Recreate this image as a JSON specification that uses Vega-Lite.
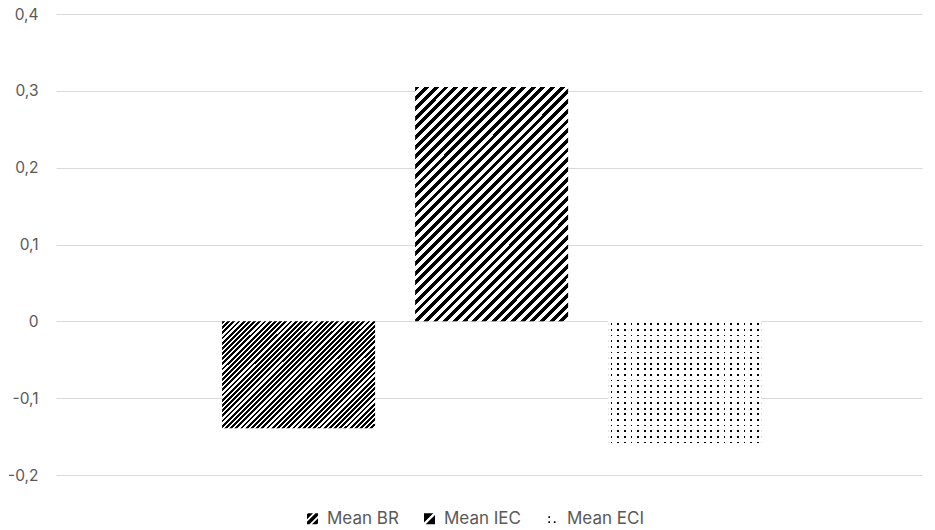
{
"$schema":"https://vega.github.io/schema/vega-lite/v6.json",
"autosize":{"type":"none"},
"width":866,"height":461,
"padding":{"left":56,"top":14,"right":13,"bottom":55},
"background":"white",
"config":{"view":{"stroke":null},"font":"Inter"},
"data":{"values":[{"key":"Mean BR","value":-0.139},{"key":"Mean IEC","value":0.305},{"key":"Mean ECI","value":-0.161}]},
"encoding":{
"x":{"field":"key","type":"nominal","sort":["Mean BR","Mean IEC","Mean ECI"],"scale":{"domain":["Mean BR","Mean IEC","Mean ECI"],"paddingInner":0.2073,"paddingOuter":0.847,"align":0.508},"axis":null},
"y":{"field":"value","type":"quantitative","scale":{"domain":[-0.2,0.4],"nice":false,"zero":false},"axis":{"values":[-0.2,-0.1,0,0.1,0.2,0.3,0.4],"labelExpr":"replace(toString(round(datum.value*10)/10), '.', ',')","title":null,"domain":false,"ticks":false,"grid":true,"gridColor":"#d9d9d9","gridWidth":1,"labelPadding":18,"labelFontSize":15.5,"labelColor":"#595959","labelFont":"Inter"}}
},
"layer":[
{"transform":[{"filter":"datum.key === 'Mean BR'"}],
"mark":{"type":"bar","strokeWidth":0,"fill":{"gradient":"linear","x1":0,"y1":0,"x2":1.141,"y2":0.798,"stops":[
{"offset":0,"color":"#000"},{"offset":0.011,"color":"#000"},{"offset":0.011,"color":"#fff"},{"offset":0.02,"color":"#fff"},
{"offset":0.02,"color":"#000"},{"offset":0.031,"color":"#000"},{"offset":0.031,"color":"#fff"},{"offset":0.04,"color":"#fff"},
{"offset":0.04,"color":"#000"},{"offset":0.051,"color":"#000"},{"offset":0.051,"color":"#fff"},{"offset":0.06,"color":"#fff"},
{"offset":0.06,"color":"#000"},{"offset":0.071,"color":"#000"},{"offset":0.071,"color":"#fff"},{"offset":0.08,"color":"#fff"},
{"offset":0.08,"color":"#000"},{"offset":0.091,"color":"#000"},{"offset":0.091,"color":"#fff"},{"offset":0.1,"color":"#fff"},
{"offset":0.1,"color":"#000"},{"offset":0.111,"color":"#000"},{"offset":0.111,"color":"#fff"},{"offset":0.12,"color":"#fff"},
{"offset":0.12,"color":"#000"},{"offset":0.131,"color":"#000"},{"offset":0.131,"color":"#fff"},{"offset":0.14,"color":"#fff"},
{"offset":0.14,"color":"#000"},{"offset":0.151,"color":"#000"},{"offset":0.151,"color":"#fff"},{"offset":0.16,"color":"#fff"},
{"offset":0.16,"color":"#000"},{"offset":0.171,"color":"#000"},{"offset":0.171,"color":"#fff"},{"offset":0.18,"color":"#fff"},
{"offset":0.18,"color":"#000"},{"offset":0.191,"color":"#000"},{"offset":0.191,"color":"#fff"},{"offset":0.2,"color":"#fff"},
{"offset":0.2,"color":"#000"},{"offset":0.211,"color":"#000"},{"offset":0.211,"color":"#fff"},{"offset":0.22,"color":"#fff"},
{"offset":0.22,"color":"#000"},{"offset":0.231,"color":"#000"},{"offset":0.231,"color":"#fff"},{"offset":0.24,"color":"#fff"},
{"offset":0.24,"color":"#000"},{"offset":0.251,"color":"#000"},{"offset":0.251,"color":"#fff"},{"offset":0.26,"color":"#fff"},
{"offset":0.26,"color":"#000"},{"offset":0.271,"color":"#000"},{"offset":0.271,"color":"#fff"},{"offset":0.28,"color":"#fff"},
{"offset":0.28,"color":"#000"},{"offset":0.291,"color":"#000"},{"offset":0.291,"color":"#fff"},{"offset":0.3,"color":"#fff"},
{"offset":0.3,"color":"#000"},{"offset":0.311,"color":"#000"},{"offset":0.311,"color":"#fff"},{"offset":0.32,"color":"#fff"},
{"offset":0.32,"color":"#000"},{"offset":0.331,"color":"#000"},{"offset":0.331,"color":"#fff"},{"offset":0.34,"color":"#fff"},
{"offset":0.34,"color":"#000"},{"offset":0.351,"color":"#000"},{"offset":0.351,"color":"#fff"},{"offset":0.36,"color":"#fff"},
{"offset":0.36,"color":"#000"},{"offset":0.371,"color":"#000"},{"offset":0.371,"color":"#fff"},{"offset":0.38,"color":"#fff"},
{"offset":0.38,"color":"#000"},{"offset":0.391,"color":"#000"},{"offset":0.391,"color":"#fff"},{"offset":0.4,"color":"#fff"},
{"offset":0.4,"color":"#000"},{"offset":0.411,"color":"#000"},{"offset":0.411,"color":"#fff"},{"offset":0.42,"color":"#fff"},
{"offset":0.42,"color":"#000"},{"offset":0.431,"color":"#000"},{"offset":0.431,"color":"#fff"},{"offset":0.44,"color":"#fff"},
{"offset":0.44,"color":"#000"},{"offset":0.451,"color":"#000"},{"offset":0.451,"color":"#fff"},{"offset":0.46,"color":"#fff"},
{"offset":0.46,"color":"#000"},{"offset":0.471,"color":"#000"},{"offset":0.471,"color":"#fff"},{"offset":0.48,"color":"#fff"},
{"offset":0.48,"color":"#000"},{"offset":0.491,"color":"#000"},{"offset":0.491,"color":"#fff"},{"offset":0.5,"color":"#fff"},
{"offset":0.5,"color":"#000"},{"offset":0.511,"color":"#000"},{"offset":0.511,"color":"#fff"},{"offset":0.52,"color":"#fff"},
{"offset":0.52,"color":"#000"},{"offset":0.531,"color":"#000"},{"offset":0.531,"color":"#fff"},{"offset":0.54,"color":"#fff"},
{"offset":0.54,"color":"#000"},{"offset":0.551,"color":"#000"},{"offset":0.551,"color":"#fff"},{"offset":0.56,"color":"#fff"},
{"offset":0.56,"color":"#000"},{"offset":0.571,"color":"#000"},{"offset":0.571,"color":"#fff"},{"offset":0.58,"color":"#fff"},
{"offset":0.58,"color":"#000"},{"offset":0.591,"color":"#000"},{"offset":0.591,"color":"#fff"},{"offset":0.6,"color":"#fff"},
{"offset":0.6,"color":"#000"},{"offset":0.611,"color":"#000"},{"offset":0.611,"color":"#fff"},{"offset":0.62,"color":"#fff"},
{"offset":0.62,"color":"#000"},{"offset":0.631,"color":"#000"},{"offset":0.631,"color":"#fff"},{"offset":0.64,"color":"#fff"},
{"offset":0.64,"color":"#000"},{"offset":0.651,"color":"#000"},{"offset":0.651,"color":"#fff"},{"offset":0.66,"color":"#fff"},
{"offset":0.66,"color":"#000"},{"offset":0.671,"color":"#000"},{"offset":0.671,"color":"#fff"},{"offset":0.68,"color":"#fff"},
{"offset":0.68,"color":"#000"},{"offset":0.691,"color":"#000"},{"offset":0.691,"color":"#fff"},{"offset":0.7,"color":"#fff"},
{"offset":0.7,"color":"#000"},{"offset":0.711,"color":"#000"},{"offset":0.711,"color":"#fff"},{"offset":0.72,"color":"#fff"},
{"offset":0.72,"color":"#000"},{"offset":0.731,"color":"#000"},{"offset":0.731,"color":"#fff"},{"offset":0.74,"color":"#fff"},
{"offset":0.74,"color":"#000"},{"offset":0.751,"color":"#000"},{"offset":0.751,"color":"#fff"},{"offset":0.76,"color":"#fff"},
{"offset":0.76,"color":"#000"},{"offset":0.771,"color":"#000"},{"offset":0.771,"color":"#fff"},{"offset":0.78,"color":"#fff"},
{"offset":0.78,"color":"#000"},{"offset":0.791,"color":"#000"},{"offset":0.791,"color":"#fff"},{"offset":0.8,"color":"#fff"},
{"offset":0.8,"color":"#000"},{"offset":0.811,"color":"#000"},{"offset":0.811,"color":"#fff"},{"offset":0.82,"color":"#fff"},
{"offset":0.82,"color":"#000"},{"offset":0.831,"color":"#000"},{"offset":0.831,"color":"#fff"},{"offset":0.84,"color":"#fff"},
{"offset":0.84,"color":"#000"},{"offset":0.851,"color":"#000"},{"offset":0.851,"color":"#fff"},{"offset":0.86,"color":"#fff"},
{"offset":0.86,"color":"#000"},{"offset":0.871,"color":"#000"},{"offset":0.871,"color":"#fff"},{"offset":0.88,"color":"#fff"},
{"offset":0.88,"color":"#000"},{"offset":0.891,"color":"#000"},{"offset":0.891,"color":"#fff"},{"offset":0.9,"color":"#fff"},
{"offset":0.9,"color":"#000"},{"offset":0.911,"color":"#000"},{"offset":0.911,"color":"#fff"},{"offset":0.92,"color":"#fff"},
{"offset":0.92,"color":"#000"},{"offset":0.931,"color":"#000"},{"offset":0.931,"color":"#fff"},{"offset":0.94,"color":"#fff"},
{"offset":0.94,"color":"#000"},{"offset":0.951,"color":"#000"},{"offset":0.951,"color":"#fff"},{"offset":0.96,"color":"#fff"},
{"offset":0.96,"color":"#000"},{"offset":0.971,"color":"#000"},{"offset":0.971,"color":"#fff"},{"offset":0.98,"color":"#fff"},
{"offset":0.98,"color":"#000"},{"offset":0.991,"color":"#000"},{"offset":0.991,"color":"#fff"},{"offset":1,"color":"#fff"}
]}}},
{"transform":[{"filter":"datum.key === 'Mean IEC'"}],
"mark":{"type":"bar","strokeWidth":0,"fill":{"gradient":"linear","x1":0,"y1":0,"x2":0.758,"y2":1.159,"stops":[
{"offset":0,"color":"#000"},{"offset":0.0125,"color":"#000"},{"offset":0.0125,"color":"#fff"},{"offset":0.025,"color":"#fff"},
{"offset":0.025,"color":"#000"},{"offset":0.0375,"color":"#000"},{"offset":0.0375,"color":"#fff"},{"offset":0.05,"color":"#fff"},
{"offset":0.05,"color":"#000"},{"offset":0.0625,"color":"#000"},{"offset":0.0625,"color":"#fff"},{"offset":0.075,"color":"#fff"},
{"offset":0.075,"color":"#000"},{"offset":0.0875,"color":"#000"},{"offset":0.0875,"color":"#fff"},{"offset":0.1,"color":"#fff"},
{"offset":0.1,"color":"#000"},{"offset":0.1125,"color":"#000"},{"offset":0.1125,"color":"#fff"},{"offset":0.125,"color":"#fff"},
{"offset":0.125,"color":"#000"},{"offset":0.1375,"color":"#000"},{"offset":0.1375,"color":"#fff"},{"offset":0.15,"color":"#fff"},
{"offset":0.15,"color":"#000"},{"offset":0.1625,"color":"#000"},{"offset":0.1625,"color":"#fff"},{"offset":0.175,"color":"#fff"},
{"offset":0.175,"color":"#000"},{"offset":0.1875,"color":"#000"},{"offset":0.1875,"color":"#fff"},{"offset":0.2,"color":"#fff"},
{"offset":0.2,"color":"#000"},{"offset":0.2125,"color":"#000"},{"offset":0.2125,"color":"#fff"},{"offset":0.225,"color":"#fff"},
{"offset":0.225,"color":"#000"},{"offset":0.2375,"color":"#000"},{"offset":0.2375,"color":"#fff"},{"offset":0.25,"color":"#fff"},
{"offset":0.25,"color":"#000"},{"offset":0.2625,"color":"#000"},{"offset":0.2625,"color":"#fff"},{"offset":0.275,"color":"#fff"},
{"offset":0.275,"color":"#000"},{"offset":0.2875,"color":"#000"},{"offset":0.2875,"color":"#fff"},{"offset":0.3,"color":"#fff"},
{"offset":0.3,"color":"#000"},{"offset":0.3125,"color":"#000"},{"offset":0.3125,"color":"#fff"},{"offset":0.325,"color":"#fff"},
{"offset":0.325,"color":"#000"},{"offset":0.3375,"color":"#000"},{"offset":0.3375,"color":"#fff"},{"offset":0.35,"color":"#fff"},
{"offset":0.35,"color":"#000"},{"offset":0.3625,"color":"#000"},{"offset":0.3625,"color":"#fff"},{"offset":0.375,"color":"#fff"},
{"offset":0.375,"color":"#000"},{"offset":0.3875,"color":"#000"},{"offset":0.3875,"color":"#fff"},{"offset":0.4,"color":"#fff"},
{"offset":0.4,"color":"#000"},{"offset":0.4125,"color":"#000"},{"offset":0.4125,"color":"#fff"},{"offset":0.425,"color":"#fff"},
{"offset":0.425,"color":"#000"},{"offset":0.4375,"color":"#000"},{"offset":0.4375,"color":"#fff"},{"offset":0.45,"color":"#fff"},
{"offset":0.45,"color":"#000"},{"offset":0.4625,"color":"#000"},{"offset":0.4625,"color":"#fff"},{"offset":0.475,"color":"#fff"},
{"offset":0.475,"color":"#000"},{"offset":0.4875,"color":"#000"},{"offset":0.4875,"color":"#fff"},{"offset":0.5,"color":"#fff"},
{"offset":0.5,"color":"#000"},{"offset":0.5125,"color":"#000"},{"offset":0.5125,"color":"#fff"},{"offset":0.525,"color":"#fff"},
{"offset":0.525,"color":"#000"},{"offset":0.5375,"color":"#000"},{"offset":0.5375,"color":"#fff"},{"offset":0.55,"color":"#fff"},
{"offset":0.55,"color":"#000"},{"offset":0.5625,"color":"#000"},{"offset":0.5625,"color":"#fff"},{"offset":0.575,"color":"#fff"},
{"offset":0.575,"color":"#000"},{"offset":0.5875,"color":"#000"},{"offset":0.5875,"color":"#fff"},{"offset":0.6,"color":"#fff"},
{"offset":0.6,"color":"#000"},{"offset":0.6125,"color":"#000"},{"offset":0.6125,"color":"#fff"},{"offset":0.625,"color":"#fff"},
{"offset":0.625,"color":"#000"},{"offset":0.6375,"color":"#000"},{"offset":0.6375,"color":"#fff"},{"offset":0.65,"color":"#fff"},
{"offset":0.65,"color":"#000"},{"offset":0.6625,"color":"#000"},{"offset":0.6625,"color":"#fff"},{"offset":0.675,"color":"#fff"},
{"offset":0.675,"color":"#000"},{"offset":0.6875,"color":"#000"},{"offset":0.6875,"color":"#fff"},{"offset":0.7,"color":"#fff"},
{"offset":0.7,"color":"#000"},{"offset":0.7125,"color":"#000"},{"offset":0.7125,"color":"#fff"},{"offset":0.725,"color":"#fff"},
{"offset":0.725,"color":"#000"},{"offset":0.7375,"color":"#000"},{"offset":0.7375,"color":"#fff"},{"offset":0.75,"color":"#fff"},
{"offset":0.75,"color":"#000"},{"offset":0.7625,"color":"#000"},{"offset":0.7625,"color":"#fff"},{"offset":0.775,"color":"#fff"},
{"offset":0.775,"color":"#000"},{"offset":0.7875,"color":"#000"},{"offset":0.7875,"color":"#fff"},{"offset":0.8,"color":"#fff"},
{"offset":0.8,"color":"#000"},{"offset":0.8125,"color":"#000"},{"offset":0.8125,"color":"#fff"},{"offset":0.825,"color":"#fff"},
{"offset":0.825,"color":"#000"},{"offset":0.8375,"color":"#000"},{"offset":0.8375,"color":"#fff"},{"offset":0.85,"color":"#fff"},
{"offset":0.85,"color":"#000"},{"offset":0.8625,"color":"#000"},{"offset":0.8625,"color":"#fff"},{"offset":0.875,"color":"#fff"},
{"offset":0.875,"color":"#000"},{"offset":0.8875,"color":"#000"},{"offset":0.8875,"color":"#fff"},{"offset":0.9,"color":"#fff"},
{"offset":0.9,"color":"#000"},{"offset":0.9125,"color":"#000"},{"offset":0.9125,"color":"#fff"},{"offset":0.925,"color":"#fff"},
{"offset":0.925,"color":"#000"},{"offset":0.9375,"color":"#000"},{"offset":0.9375,"color":"#fff"},{"offset":0.95,"color":"#fff"},
{"offset":0.95,"color":"#000"},{"offset":0.9625,"color":"#000"},{"offset":0.9625,"color":"#fff"},{"offset":0.975,"color":"#fff"},
{"offset":0.975,"color":"#000"},{"offset":0.9875,"color":"#000"},{"offset":0.9875,"color":"#fff"},{"offset":1,"color":"#fff"}
]}}},
{"transform":[{"filter":"datum.key === 'Mean ECI'"}],
"mark":{"type":"bar","strokeWidth":0,"fill":{"gradient":"linear","x1":0,"y1":0,"x2":0,"y2":1,"stops":[
{"offset":0,"color":"#fff"},
{"offset":0.017,"color":"#fff"},{"offset":0.017,"color":"#000"},{"offset":0.031,"color":"#000"},{"offset":0.031,"color":"#fff"},
{"offset":0.0625,"color":"#fff"},{"offset":0.0625,"color":"#000"},{"offset":0.0765,"color":"#000"},{"offset":0.0765,"color":"#fff"},
{"offset":0.1079,"color":"#fff"},{"offset":0.1079,"color":"#000"},{"offset":0.1219,"color":"#000"},{"offset":0.1219,"color":"#fff"},
{"offset":0.1534,"color":"#fff"},{"offset":0.1534,"color":"#000"},{"offset":0.1674,"color":"#000"},{"offset":0.1674,"color":"#fff"},
{"offset":0.1988,"color":"#fff"},{"offset":0.1988,"color":"#000"},{"offset":0.2128,"color":"#000"},{"offset":0.2128,"color":"#fff"},
{"offset":0.2443,"color":"#fff"},{"offset":0.2443,"color":"#000"},{"offset":0.2583,"color":"#000"},{"offset":0.2583,"color":"#fff"},
{"offset":0.2897,"color":"#fff"},{"offset":0.2897,"color":"#000"},{"offset":0.3037,"color":"#000"},{"offset":0.3037,"color":"#fff"},
{"offset":0.3352,"color":"#fff"},{"offset":0.3352,"color":"#000"},{"offset":0.3492,"color":"#000"},{"offset":0.3492,"color":"#fff"},
{"offset":0.3806,"color":"#fff"},{"offset":0.3806,"color":"#000"},{"offset":0.3946,"color":"#000"},{"offset":0.3946,"color":"#fff"},
{"offset":0.4261,"color":"#fff"},{"offset":0.4261,"color":"#000"},{"offset":0.4401,"color":"#000"},{"offset":0.4401,"color":"#fff"},
{"offset":0.4715,"color":"#fff"},{"offset":0.4715,"color":"#000"},{"offset":0.4855,"color":"#000"},{"offset":0.4855,"color":"#fff"},
{"offset":0.517,"color":"#fff"},{"offset":0.517,"color":"#000"},{"offset":0.531,"color":"#000"},{"offset":0.531,"color":"#fff"},
{"offset":0.5625,"color":"#fff"},{"offset":0.5625,"color":"#000"},{"offset":0.5765,"color":"#000"},{"offset":0.5765,"color":"#fff"},
{"offset":0.6079,"color":"#fff"},{"offset":0.6079,"color":"#000"},{"offset":0.6219,"color":"#000"},{"offset":0.6219,"color":"#fff"},
{"offset":0.6534,"color":"#fff"},{"offset":0.6534,"color":"#000"},{"offset":0.6674,"color":"#000"},{"offset":0.6674,"color":"#fff"},
{"offset":0.6988,"color":"#fff"},{"offset":0.6988,"color":"#000"},{"offset":0.7128,"color":"#000"},{"offset":0.7128,"color":"#fff"},
{"offset":0.7443,"color":"#fff"},{"offset":0.7443,"color":"#000"},{"offset":0.7583,"color":"#000"},{"offset":0.7583,"color":"#fff"},
{"offset":0.7897,"color":"#fff"},{"offset":0.7897,"color":"#000"},{"offset":0.8037,"color":"#000"},{"offset":0.8037,"color":"#fff"},
{"offset":0.8352,"color":"#fff"},{"offset":0.8352,"color":"#000"},{"offset":0.8492,"color":"#000"},{"offset":0.8492,"color":"#fff"},
{"offset":0.8806,"color":"#fff"},{"offset":0.8806,"color":"#000"},{"offset":0.8946,"color":"#000"},{"offset":0.8946,"color":"#fff"},
{"offset":0.9261,"color":"#fff"},{"offset":0.9261,"color":"#000"},{"offset":0.9401,"color":"#000"},{"offset":0.9401,"color":"#fff"},
{"offset":0.9715,"color":"#fff"},{"offset":0.9715,"color":"#000"},{"offset":0.9855,"color":"#000"},{"offset":0.9855,"color":"#fff"},
{"offset":1,"color":"#fff"}
]}}},
{"transform":[{"filter":"datum.key === 'Mean ECI'"}],
"mark":{"type":"bar","strokeWidth":0,"fill":{"gradient":"linear","x1":0,"y1":0,"x2":1,"y2":0,"stops":[
{"offset":0,"color":"#fff"},
{"offset":0.016,"color":"#fff"},{"offset":0.016,"color":"rgba(255,255,255,0)"},{"offset":0.028,"color":"rgba(255,255,255,0)"},{"offset":0.028,"color":"#fff"},
{"offset":0.0595,"color":"#fff"},{"offset":0.0595,"color":"rgba(255,255,255,0)"},{"offset":0.0715,"color":"rgba(255,255,255,0)"},{"offset":0.0715,"color":"#fff"},
{"offset":0.103,"color":"#fff"},{"offset":0.103,"color":"rgba(255,255,255,0)"},{"offset":0.115,"color":"rgba(255,255,255,0)"},{"offset":0.115,"color":"#fff"},
{"offset":0.1464,"color":"#fff"},{"offset":0.1464,"color":"rgba(255,255,255,0)"},{"offset":0.1584,"color":"rgba(255,255,255,0)"},{"offset":0.1584,"color":"#fff"},
{"offset":0.1899,"color":"#fff"},{"offset":0.1899,"color":"rgba(255,255,255,0)"},{"offset":0.2019,"color":"rgba(255,255,255,0)"},{"offset":0.2019,"color":"#fff"},
{"offset":0.2334,"color":"#fff"},{"offset":0.2334,"color":"rgba(255,255,255,0)"},{"offset":0.2454,"color":"rgba(255,255,255,0)"},{"offset":0.2454,"color":"#fff"},
{"offset":0.2769,"color":"#fff"},{"offset":0.2769,"color":"rgba(255,255,255,0)"},{"offset":0.2889,"color":"rgba(255,255,255,0)"},{"offset":0.2889,"color":"#fff"},
{"offset":0.3203,"color":"#fff"},{"offset":0.3203,"color":"rgba(255,255,255,0)"},{"offset":0.3323,"color":"rgba(255,255,255,0)"},{"offset":0.3323,"color":"#fff"},
{"offset":0.3638,"color":"#fff"},{"offset":0.3638,"color":"rgba(255,255,255,0)"},{"offset":0.3758,"color":"rgba(255,255,255,0)"},{"offset":0.3758,"color":"#fff"},
{"offset":0.4073,"color":"#fff"},{"offset":0.4073,"color":"rgba(255,255,255,0)"},{"offset":0.4193,"color":"rgba(255,255,255,0)"},{"offset":0.4193,"color":"#fff"},
{"offset":0.4508,"color":"#fff"},{"offset":0.4508,"color":"rgba(255,255,255,0)"},{"offset":0.4628,"color":"rgba(255,255,255,0)"},{"offset":0.4628,"color":"#fff"},
{"offset":0.4943,"color":"#fff"},{"offset":0.4943,"color":"rgba(255,255,255,0)"},{"offset":0.5063,"color":"rgba(255,255,255,0)"},{"offset":0.5063,"color":"#fff"},
{"offset":0.5377,"color":"#fff"},{"offset":0.5377,"color":"rgba(255,255,255,0)"},{"offset":0.5497,"color":"rgba(255,255,255,0)"},{"offset":0.5497,"color":"#fff"},
{"offset":0.5812,"color":"#fff"},{"offset":0.5812,"color":"rgba(255,255,255,0)"},{"offset":0.5932,"color":"rgba(255,255,255,0)"},{"offset":0.5932,"color":"#fff"},
{"offset":0.6247,"color":"#fff"},{"offset":0.6247,"color":"rgba(255,255,255,0)"},{"offset":0.6367,"color":"rgba(255,255,255,0)"},{"offset":0.6367,"color":"#fff"},
{"offset":0.6682,"color":"#fff"},{"offset":0.6682,"color":"rgba(255,255,255,0)"},{"offset":0.6802,"color":"rgba(255,255,255,0)"},{"offset":0.6802,"color":"#fff"},
{"offset":0.7117,"color":"#fff"},{"offset":0.7117,"color":"rgba(255,255,255,0)"},{"offset":0.7237,"color":"rgba(255,255,255,0)"},{"offset":0.7237,"color":"#fff"},
{"offset":0.7551,"color":"#fff"},{"offset":0.7551,"color":"rgba(255,255,255,0)"},{"offset":0.7671,"color":"rgba(255,255,255,0)"},{"offset":0.7671,"color":"#fff"},
{"offset":0.7986,"color":"#fff"},{"offset":0.7986,"color":"rgba(255,255,255,0)"},{"offset":0.8106,"color":"rgba(255,255,255,0)"},{"offset":0.8106,"color":"#fff"},
{"offset":0.8421,"color":"#fff"},{"offset":0.8421,"color":"rgba(255,255,255,0)"},{"offset":0.8541,"color":"rgba(255,255,255,0)"},{"offset":0.8541,"color":"#fff"},
{"offset":0.8856,"color":"#fff"},{"offset":0.8856,"color":"rgba(255,255,255,0)"},{"offset":0.8976,"color":"rgba(255,255,255,0)"},{"offset":0.8976,"color":"#fff"},
{"offset":0.929,"color":"#fff"},{"offset":0.929,"color":"rgba(255,255,255,0)"},{"offset":0.941,"color":"rgba(255,255,255,0)"},{"offset":0.941,"color":"#fff"},
{"offset":0.9725,"color":"#fff"},{"offset":0.9725,"color":"rgba(255,255,255,0)"},{"offset":0.9845,"color":"rgba(255,255,255,0)"},{"offset":0.9845,"color":"#fff"},
{"offset":1,"color":"#fff"}
]}}},
{"mark":{"type":"point","filled":true,"color":"black","opacity":0,"size":121},
"encoding":{"shape":{"field":"key","type":"nominal","scale":{"domain":["Mean BR","Mean IEC","Mean ECI"],"range":["M-1,-0.8L-0.8,-1L0.1,-1L-1,0.1Z M-1,0.55L0.55,-1L1,-1L1,-0.55L-0.55,1L-1,1Z M-0.1,1L1,-0.1L1,0.8L0.8,1Z","M-1,-1L0.7,-1L-1,0.7Z M1,1L-0.7,1L1,-0.7Z","M-0.75,-0.45h0.3v0.3h-0.3Z M-0.75,0.45h0.3v0.3h-0.3Z M0.25,0.45h0.3v0.3h-0.3Z"]},
"legend":{"title":null,"orient":"none","legendX":248,"legendY":496,"direction":"horizontal","symbolSize":121,"symbolOpacity":1,"symbolFillColor":"#000","symbolStrokeWidth":0,"labelFontSize":17,"labelFont":"Inter","labelColor":"#595959","labelOffset":6,"columnPadding":22}}}}
]
}
